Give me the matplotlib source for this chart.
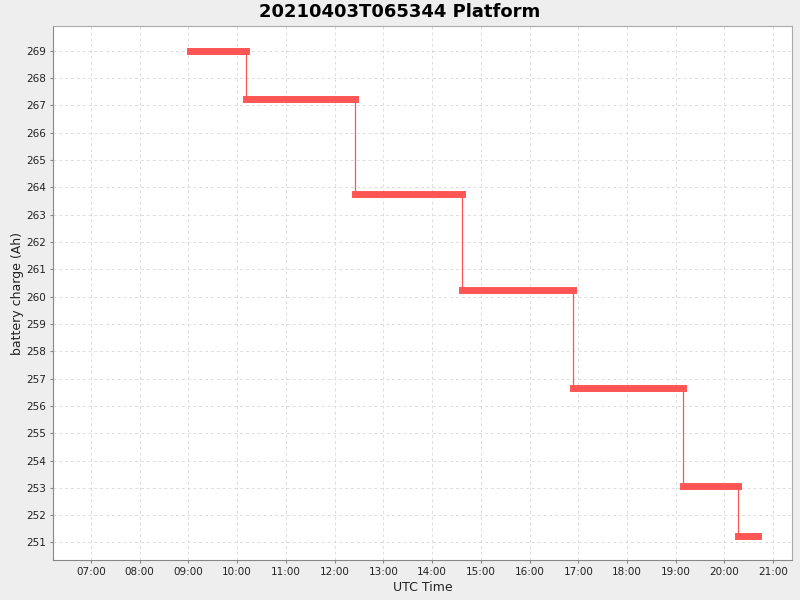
import pandas as pd
import matplotlib
matplotlib.use("Agg")
import matplotlib.pyplot as plt
import matplotlib.dates as mdates

day = "2021-04-03 "
# step points: charge level holds from one time to the next
times = ["09:02", "10:11", "12:25", "14:37", "16:54", "19:09", "20:17", "20:41"]
levels = [268.98, 267.22, 263.75, 260.23, 256.66, 253.06, 251.23]
yticks = list(range(251, 270))
xticks = ["%02d:00" % h for h in range(7, 22)]

t = pd.to_datetime([day + s for s in times])

fig = plt.figure(figsize=(8, 6), dpi=100, facecolor="#eeeeee")
ax = fig.add_axes([0.0666, 0.0667, 0.9237, 0.8895])
ax.set_facecolor("white")

red = "#ff5555"
# thin jumps
for i in range(len(levels) - 1):
    ax.plot([t[i + 1], t[i + 1]], [levels[i], levels[i + 1]], color=red, lw=0.9, zorder=3)
# thick level bars
for i in range(len(levels)):
    ax.plot([t[i], t[i + 1]], [levels[i], levels[i]], color=red, lw=5.0,
            solid_capstyle="projecting", zorder=4)

ax.set_xlim(pd.Timestamp(day + "06:13:48"), pd.Timestamp(day + "21:23:24"))
ax.set_ylim(250.36, 269.89)
ax.set_yticks(yticks)
ax.set_xticks(pd.to_datetime([day + s for s in xticks]))
ax.xaxis.set_major_formatter(mdates.DateFormatter("%H:%M"))

ax.grid(True, color="#dddddd", linestyle=(0, (3, 3)), linewidth=0.7)
ax.set_axisbelow(True)
for side in ["left", "bottom"]:
    ax.spines[side].set_color("#888888")
for side in ["right", "top"]:
    ax.spines[side].set_color("#aaaaaa")
ax.tick_params(colors="#888888", labelcolor="#222222", length=2, labelsize=7.5, pad=3)

ax.set_xlabel("UTC Time", fontsize=9, color="#222222", labelpad=3)
ax.set_ylabel("battery charge (Ah)", fontsize=9, color="#222222", labelpad=2)
fig.text(0.5, 0.98, "20210403T065344 Platform", ha="center", va="center",
         fontsize=13, fontweight="bold", color="black")

plt.savefig("out.png", dpi=100, facecolor=fig.get_facecolor())
